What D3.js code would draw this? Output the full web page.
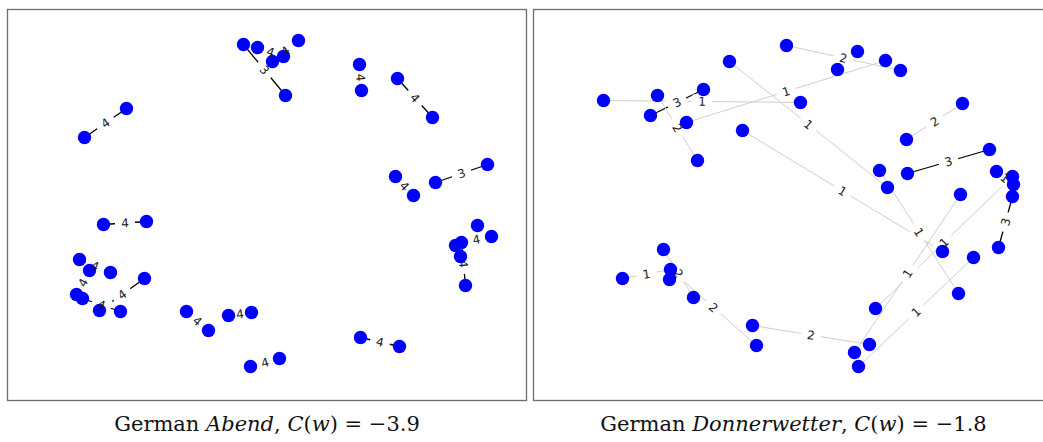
<!DOCTYPE html>
<html>
<head>
<meta charset="utf-8">
<title>German Abend / Donnerwetter</title>
<script src="https://d3js.org/d3.v7.min.js"></script>
<style>
  body { margin: 0; background: #fff; }
  .frame { fill: none; stroke: #6e6e6e; stroke-width: 1.3; }
  .node { fill: #0000ff; }
  .elabel { font-family: "DejaVu Sans", sans-serif; font-size: 12px; fill: #1a1a1a; }
  .caption { font-family: "DejaVu Serif", serif; font-size: 21px; fill: #111; }
</style>
</head>
<body>
<div id="chart"></div>
<script>
const width = 1043;
const height = 442;

// node layout, panel units (x 0..520, y 0..391)
const abendNodes = [
  [236, 35], [250, 38], [291, 31], [276, 47], [265, 52], [278, 86],
  [352, 55], [354, 81], [390, 69], [425, 108], [119, 99], [77, 128],
  [480, 155], [428, 173], [388, 167], [406, 186], [96, 215], [139, 212],
  [72, 250], [103, 263], [82, 261], [137, 269], [69, 285], [75, 289],
  [92, 301], [113, 302], [179, 302], [201, 321], [221, 306], [244, 303],
  [243, 357], [272, 349], [353, 328], [392, 337], [470, 216], [484, 227],
  [448, 236], [454, 233], [453, 247], [458, 276]
];
// [source, target, weight] (1-based node numbers)
const abendEdges = [
  [1, 6, 3], [2, 4, 4], [3, 5, 4], [7, 8, 4], [9, 10, 4], [11, 12, 4],
  [13, 14, 3], [15, 16, 4], [17, 18, 4], [19, 20, 4], [21, 23, 4],
  [22, 25, 4], [24, 26, 4], [27, 28, 4], [29, 30, 4], [31, 32, 4],
  [33, 34, 4], [36, 38, 4], [38, 40, 4]
];

const donnerNodes = [
  [253, 36], [324, 42], [352, 51], [367, 61], [304, 60], [196, 52],
  [70, 91], [124, 86], [170, 80], [117, 106], [153, 113], [267, 93],
  [164, 151], [209, 121], [429, 94], [373, 130], [456, 140], [374, 164],
  [346, 161], [354, 178], [463, 162], [479, 167], [480, 175], [479, 187],
  [427, 185], [465, 238], [440, 248], [409, 242], [425, 284], [342, 299],
  [336, 335], [321, 343], [325, 357], [130, 240], [137, 260], [136, 270],
  [89, 269], [160, 288], [219, 316], [223, 336]
];
const donnerEdges = [
  [1, 4, 2], [11, 3, 1], [6, 20, 1], [19, 29, 1], [14, 28, 1], [7, 12, 1],
  [10, 9, 3], [8, 13, 2], [16, 15, 2], [18, 17, 3], [21, 23, 1], [22, 30, 1],
  [24, 26, 3], [25, 32, 1], [33, 27, 1], [39, 31, 2], [35, 40, 2], [37, 35, 1],
  [34, 38, 2]
];

const panels = [
  { nodes: abendNodes, edges: abendEdges, x: 7.5, w: 519, word: "Abend", score: "\u22123.9" },
  { nodes: donnerNodes, edges: donnerEdges, x: 533.5, w: 520, word: "Donnerwetter", score: "\u22121.8" }
];
const panelTop = 9.5, panelH = 391;

const svg = d3.select("#chart").append("svg")
    .attr("width", width)
    .attr("height", height);

panels.forEach(p => drawPanel(p));

function drawPanel(p) {
  const x = d3.scaleLinear().domain([0, 520]).range([p.x, p.x + 520]);
  const y = d3.scaleLinear().domain([0, 391]).range([panelTop, panelTop + panelH]);
  const g = svg.append("g");

  g.append("rect").attr("class", "frame")
    .attr("x", p.x).attr("y", panelTop).attr("width", p.w).attr("height", panelH);

  const edges = p.edges.map(([s, t, w]) => ({ s: p.nodes[s - 1], t: p.nodes[t - 1], w }));

  g.selectAll("line.edge").data(edges).enter().append("line")
    .attr("class", "edge")
    .attr("x1", d => x(d.s[0])).attr("y1", d => y(d.s[1]))
    .attr("x2", d => x(d.t[0])).attr("y2", d => y(d.t[1]))
    .attr("stroke", d => d.w >= 3 ? "#000" : "#cfcfcf")
    .attr("stroke-width", d => d.w >= 3 ? 1.3 : 1);

  // label position, turned along the edge like networkx does
  const labelPos = d => {
    const x1 = x(d.s[0]), y1 = y(d.s[1]), x2 = x(d.t[0]), y2 = y(d.t[1]);
    let a = Math.atan2(y2 - y1, x2 - x1) * 180 / Math.PI;
    if (a > 90) a -= 180;
    if (a < -90) a += 180;
    return `translate(${(x1 + x2) / 2},${(y1 + y2) / 2}) rotate(${a})`;
  };

  // white boxes under the labels break the edges, nodes stay on top
  g.selectAll("rect.lbox").data(edges).enter().append("rect")
    .attr("class", "lbox")
    .attr("transform", labelPos)
    .attr("x", -10).attr("y", -7.5).attr("width", 20).attr("height", 15).attr("rx", 3)
    .attr("fill", "#fff");

  g.selectAll("circle").data(p.nodes).enter().append("circle")
    .attr("class", "node")
    .attr("cx", d => x(d[0])).attr("cy", d => y(d[1]))
    .attr("r", 6.7);

  g.selectAll("text.elabel").data(edges).enter().append("text")
    .attr("class", "elabel")
    .attr("transform", labelPos)
    .attr("text-anchor", "middle").attr("dy", "0.36em")
    .text(d => d.w);

  const cap = svg.append("text").attr("class", "caption")
    .attr("x", p.x + p.w / 2).attr("y", 431)
    .attr("text-anchor", "middle");
  cap.append("tspan").text("German ");
  cap.append("tspan").style("font-style", "italic").text(p.word);
  cap.append("tspan").text(", ");
  cap.append("tspan").style("font-style", "italic").text("C");
  cap.append("tspan").text("(");
  cap.append("tspan").style("font-style", "italic").text("w");
  cap.append("tspan").text(") = " + p.score);
}
</script>
</body>
</html>
